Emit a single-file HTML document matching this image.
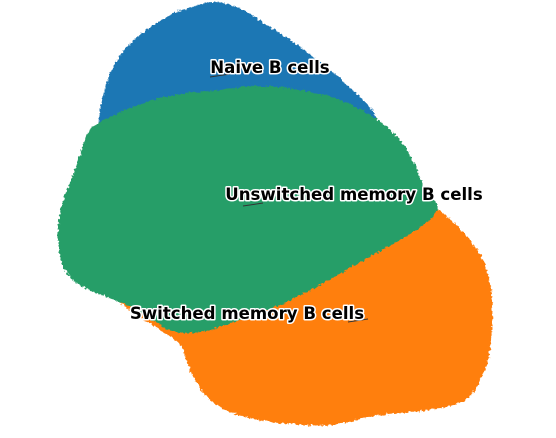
<!DOCTYPE html>
<html>
<head>
<meta charset="utf-8">
<style>
html,body{margin:0;padding:0;background:#fff;}
svg{display:block;}
text{font-family:"DejaVu Sans","Liberation Sans",sans-serif;font-weight:bold;font-size:16.6px;fill:#000;stroke:#fff;stroke-width:3px;paint-order:stroke;stroke-linejoin:round;}
</style>
</head>
<body>
<svg id="chart" width="556" height="438" viewBox="0 0 556 438" xmlns="http://www.w3.org/2000/svg">
<defs>
<filter id="rough" x="-5%" y="-5%" width="110%" height="110%">
<feTurbulence type="fractalNoise" baseFrequency="0.35" numOctaves="2" seed="3" result="n"/>
<feDisplacementMap in="SourceGraphic" in2="n" scale="5" xChannelSelector="R" yChannelSelector="G"/>
</filter>
</defs>
<g id="plot"></g>
</svg>
<script>
// cluster names, colours and outline data (UMAP coordinates)
const clusterNames = ["Naive B cells", "Switched memory B cells", "Unswitched memory B cells"];
const clusterColors = ["#1f77b4", "#ff7f0e", "#279e68"];
const naiveX = [215,240,262,290,320,350,375,368,330,260,180,120,100,100,108,120,140,170,195];
const naiveY = [2,8,22,40,62,88,115,140,150,150,150,145,140,110,80,55,35,15,6];
const switchedX = [425,445,470,485,492,490,480,465,430,380,330,280,250,225,205,190,180,160,130,115,150,200,260,330,390,420];
const switchedY = [200,215,240,265,300,350,380,400,410,415,425,423,418,410,395,370,345,330,310,298,310,322,300,262,225,210];
const unswX = [95,130,170,220,260,300,340,375,400,415,425,437,430,400,360,320,280,240,200,170,140,110,85,65,58,62,75,85];
const unswY = [125,108,96,90,86,90,100,118,140,165,190,205,220,240,262,285,305,320,332,330,312,298,288,270,240,205,170,140];
const labelX = [270, 247, 354];
const labelY = [68, 314, 195];
const lineFromX = [210, 348, 243];
const lineFromY = [77, 322, 206];

const W = 556, H = 438;
const sx = v => v / 556 * W;
const sy = v => v / 438 * H;
const NS = "http://www.w3.org/2000/svg";
const plot = document.getElementById("plot");

function blob(xs, ys, color, name) {
  const p = document.createElementNS(NS, "path");
  let d = "";
  const n = xs.length;
  const pts = xs.map((x, i) => [sx(x), sy(ys[i])]);
  for (let i = 0; i < n; i++) {
    const p0 = pts[(i - 1 + n) % n], p1 = pts[i], p2 = pts[(i + 1) % n], p3 = pts[(i + 2) % n];
    if (i === 0) d += "M" + p1[0] + "," + p1[1];
    const c1 = [p1[0] + (p2[0] - p0[0]) / 6, p1[1] + (p2[1] - p0[1]) / 6];
    const c2 = [p2[0] - (p3[0] - p1[0]) / 6, p2[1] - (p3[1] - p1[1]) / 6];
    d += "C" + c1[0] + "," + c1[1] + " " + c2[0] + "," + c2[1] + " " + p2[0] + "," + p2[1];
  }
  p.setAttribute("d", d + "Z");
  p.setAttribute("fill", color);
  p.setAttribute("filter", "url(#rough)");
  
  
  plot.appendChild(p);
}
blob(naiveX, naiveY, clusterColors[0], "naive-b-cells-cluster");
blob(switchedX, switchedY, clusterColors[1], "switched-memory-b-cells-cluster");
blob(unswX, unswY, clusterColors[2], "unswitched-memory-b-cells-cluster");

const labelNames = ["naive-b-cells-label", "switched-memory-b-cells-label", "unswitched-memory-b-cells-label"];
clusterNames.forEach((name, i) => {
  const l = document.createElementNS(NS, "line");
  l.setAttribute("x1", sx(lineFromX[i])); l.setAttribute("y1", sy(lineFromY[i]));
  l.setAttribute("x2", sx(lineFromX[i] + 20)); l.setAttribute("y2", sy(lineFromY[i] - 3));
  l.setAttribute("stroke", "#333"); l.setAttribute("stroke-width", "1");
  
  
  plot.appendChild(l);
});
clusterNames.forEach((name, i) => {
  const t = document.createElementNS(NS, "text");
  t.setAttribute("x", sx(labelX[i])); t.setAttribute("y", sy(labelY[i]) + 5);
  t.setAttribute("text-anchor", "middle");
  t.textContent = name;
  
  
  plot.appendChild(t);
});
</script>
</body>
</html>
